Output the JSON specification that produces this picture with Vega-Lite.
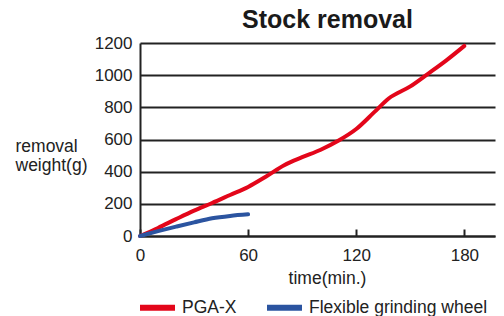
{
  "$schema": "https://vega.github.io/schema/vega-lite/v6.json",
  "width": 355,
  "height": 193,
  "autosize": {"type": "none"},
  "padding": {"left": 140, "top": 43, "right": 9, "bottom": 80},
  "background": "white",
  "title": {"text": "Stock removal", "fontSize": 25, "fontWeight": "bold", "font": "Liberation Sans", "color": "#1a1a1a", "anchor": "middle", "dx": 10, "offset": 1},
  "data": {"values": [
    {"series": "PGA-X", "time": 0, "weight": 0},
    {"series": "PGA-X", "time": 10, "weight": 50},
    {"series": "PGA-X", "time": 20, "weight": 105},
    {"series": "PGA-X", "time": 30, "weight": 158},
    {"series": "PGA-X", "time": 40, "weight": 205},
    {"series": "PGA-X", "time": 50, "weight": 255},
    {"series": "PGA-X", "time": 60, "weight": 305},
    {"series": "PGA-X", "time": 70, "weight": 370},
    {"series": "PGA-X", "time": 80, "weight": 440},
    {"series": "PGA-X", "time": 90, "weight": 490},
    {"series": "PGA-X", "time": 100, "weight": 535},
    {"series": "PGA-X", "time": 110, "weight": 592},
    {"series": "PGA-X", "time": 120, "weight": 665},
    {"series": "PGA-X", "time": 130, "weight": 770},
    {"series": "PGA-X", "time": 138, "weight": 855},
    {"series": "PGA-X", "time": 150, "weight": 930},
    {"series": "PGA-X", "time": 160, "weight": 1010},
    {"series": "PGA-X", "time": 170, "weight": 1092},
    {"series": "PGA-X", "time": 180, "weight": 1182},
    {"series": "Flexible grinding wheel", "time": 0, "weight": 0},
    {"series": "Flexible grinding wheel", "time": 10, "weight": 30},
    {"series": "Flexible grinding wheel", "time": 20, "weight": 58},
    {"series": "Flexible grinding wheel", "time": 30, "weight": 85},
    {"series": "Flexible grinding wheel", "time": 40, "weight": 110},
    {"series": "Flexible grinding wheel", "time": 50, "weight": 125},
    {"series": "Flexible grinding wheel", "time": 60, "weight": 135}
  ]},
  "mark": {"type": "line", "strokeWidth": 4, "interpolate": "monotone", "strokeCap": "round"},
  "encoding": {
    "x": {
      "field": "time", "type": "quantitative",
      "scale": {"domain": [0, 197], "nice": false, "zero": false},
      "axis": {
        "values": [0, 60, 120, 180], "grid": false, "labelFlush": false,
        "domainColor": "#222", "domainWidth": 2,
        "tickColor": "#222", "tickWidth": 2, "tickSize": -7,
        "labelFontSize": 17, "labelColor": "#222", "labelFont": "Liberation Sans", "labelPadding": 18,
        "title": "time(min.)", "titleFontSize": 17.5, "titleFontWeight": "normal", "titleColor": "#222", "titleFont": "Liberation Sans", "titlePadding": 6, "titleX": 187
      }
    },
    "y": {
      "field": "weight", "type": "quantitative",
      "scale": {"domain": [0, 1200], "nice": false},
      "axis": {
        "values": [0, 200, 400, 600, 800, 1000, 1200], "grid": true, "format": "d",
        "gridColor": "#222", "gridWidth": 1.8,
        "domainColor": "#222", "domainWidth": 2,
        "ticks": false, "labelPadding": 8,
        "labelFontSize": 17, "labelColor": "#222", "labelFont": "Liberation Sans",
        "title": ["removal", "weight(g)"], "titleAngle": 0, "titleAlign": "left", "titleBaseline": "alphabetic",
        "titleX": -125, "titleY": 108, "titleLineHeight": 19,
        "titleFontSize": 17.5, "titleFontWeight": "normal", "titleColor": "#222", "titleFont": "Liberation Sans"
      }
    },
    "color": {
      "field": "series", "type": "nominal",
      "scale": {"domain": ["PGA-X", "Flexible grinding wheel"], "range": ["#e3061a", "#2b54a0"]},
      "legend": {
        "orient": "none", "legendX": -3, "legendY": 244, "direction": "horizontal", "title": null,
        "symbolType": "stroke", "symbolSize": 1225, "symbolStrokeWidth": 6,
        "labelFontSize": 17.5, "labelFont": "Liberation Sans", "labelColor": "#222", "labelOffset": 4, "labelLimit": 400, "columnPadding": 18
      }
    }
  },
  "config": {"view": {"stroke": null}}
}
